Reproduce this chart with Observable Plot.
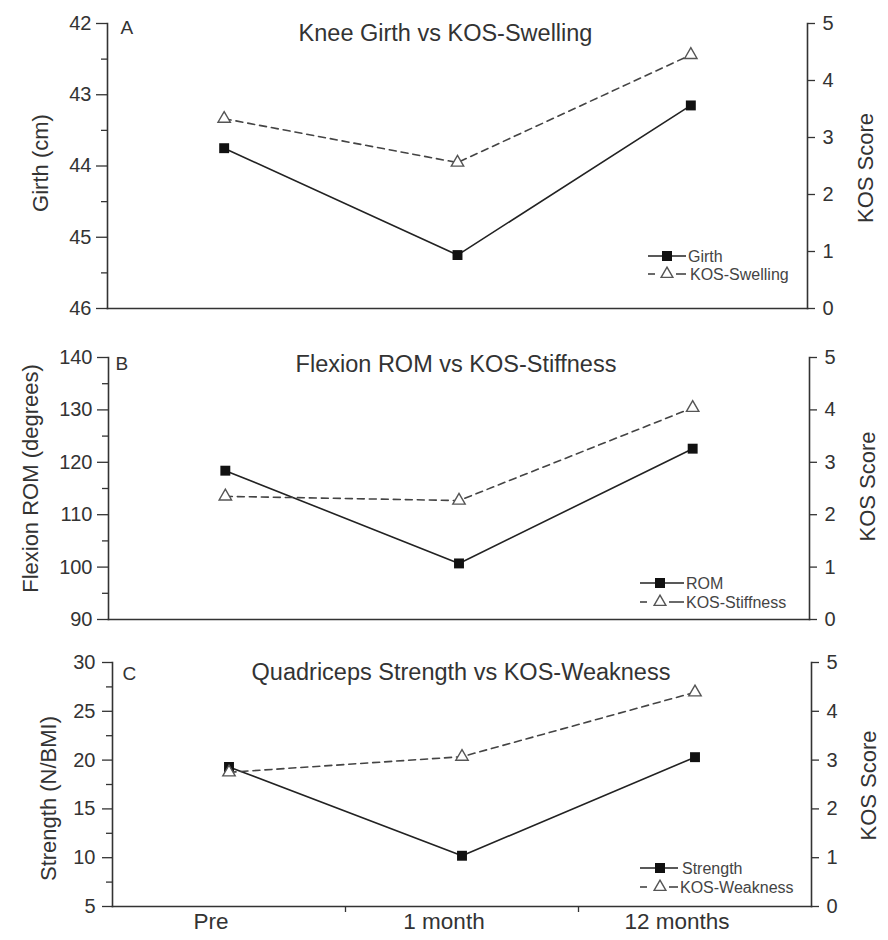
<!DOCTYPE html>
<html><head><meta charset="utf-8">
<script src="https://cdn.jsdelivr.net/npm/d3@7"></script>
<script src="https://cdn.jsdelivr.net/npm/@observablehq/plot@0.6"></script>
<style>
body{margin:0;background:#fff;font-family:"Liberation Sans",Arial,sans-serif;}
#chart{position:relative;width:888px;height:940px;overflow:hidden;}
.panel{position:absolute;left:0;width:888px;}
.panel svg{position:absolute;left:0;top:0;}
#legend{position:absolute;left:0;top:0;pointer-events:none;}
</style></head><body><div id="chart"></div>
<script>
// ---- data ----
const timepoints = ["Pre", "1 month", "12 months"];
const girth = [43.75, 45.25, 43.15];
const kosSwelling = [3.33, 2.56, 4.45];
const rom = [118.4, 100.7, 122.6];
const kosStiffness = [2.35, 2.27, 4.04];
const strength = [19.3, 10.2, 20.3];
const kosWeakness = [2.75, 3.07, 4.39];
const girthTicks = [42, 43, 44, 45, 46];
const girthMinor = [42.5, 43.5, 44.5, 45.5];
const romTicks = [90, 100, 110, 120, 130, 140];
const romMinor = [95, 105, 115, 125, 135];
const strengthTicks = [5, 10, 15, 20, 25, 30];
const strengthMinor = [7.5, 12.5, 17.5, 22.5, 27.5];
const kosTicks = [0, 1, 2, 3, 4, 5];
const panelTitles = ["Knee Girth vs KOS-Swelling", "Flexion ROM vs KOS-Stiffness", "Quadriceps Strength vs KOS-Weakness"];
const panelLetters = ["A", "B", "C"];
const leftLabels = ["Girth (cm)", "Flexion ROM (degrees)", "Strength (N/BMI)"];
const rightLabel = "KOS Score";
const seriesNames = [["Girth", "KOS-Swelling"], ["ROM", "KOS-Stiffness"], ["Strength", "KOS-Weakness"]];

const FONT = "Liberation Sans, Arial, sans-serif";
const INK = "#333";
const fmt = d3.format("d");

const panels = [
  {values: girth, kos: kosSwelling, yDomain: [46, 42], major: girthTicks, minor: girthMinor,
   top: 0, height: 330, mt: 23, mb: 22, ml: 107, mr: 81, showX: false,
   titleDx: -12, titleDy: 1, letterDx: 13, letterDy: -3, lblDx: -67, lblDy: -3, rlblDx: 58, rlblDy: 2,
   tickSize: 11, tickPad: 5,
   legend: {y1: 256, y2: 274, x1: 648, x2: 686, mx: 667, tx1: 688, tx2: 690}},
  {values: rom, kos: kosStiffness, yDomain: [90, 140], major: romTicks, minor: romMinor,
   top: 330, height: 310, mt: 27, mb: 21, ml: 108, mr: 79, showX: false,
   titleDx: -3, titleDy: -2, letterDx: 7, letterDy: -1, lblDx: -78, lblDy: -10, rlblDx: 58, rlblDy: -2,
   tickSize: 11, tickPad: 5,
   legend: {y1: 583, y2: 602, x1: 640, x2: 684, mx: 660, tx1: 686, tx2: 686}},
  {values: strength, kos: kosWeakness, yDomain: [5, 30], major: strengthTicks, minor: strengthMinor,
   top: 640, height: 300, mt: 22, mb: 34, ml: 112, mr: 77, showX: true,
   titleDx: -1, titleDy: 1, letterDx: 10, letterDy: 4, lblDx: -64, lblDy: 14, rlblDx: 57, rlblDy: 1,
   tickSize: 10, tickPad: 7,
   legend: {y1: 868, y2: 887, x1: 640, x2: 678, mx: 660, tx1: 682, tx2: 680}}
];

const chart = document.getElementById("chart");

panels.forEach((cfg, k) => {
  const div = document.createElement("div");
  div.className = "panel";
  div.style.top = cfg.top + "px";
  div.style.height = cfg.height + "px";
  chart.appendChild(div);

  const leftData = cfg.values.map((v, i) => ({i, v}));
  const kosData = cfg.kos.map((v, i) => ({i, v}));
  const style = {fontFamily: FONT, background: "transparent", overflow: "visible", color: INK};
  const common = {
    width: 888, height: cfg.height,
    marginTop: cfg.mt, marginBottom: cfg.mb, marginLeft: cfg.ml, marginRight: cfg.mr,
    style
  };
  const xScale = {type: "linear", domain: [-0.5, 2.5]};
  if (!cfg.showX) xScale.axis = null;

  const marks1 = [
    Plot.frame({anchor: "left", stroke: INK, strokeWidth: 1.6}),
    Plot.frame({anchor: "bottom", stroke: INK, strokeWidth: 1.6}),
    Plot.axisY({ticks: cfg.minor, tickSize: 6, tickFormat: () => "", label: null, stroke: INK, strokeWidth: 1.3}),
    Plot.axisY({ticks: cfg.major, tickSize: cfg.tickSize, tickPadding: cfg.tickPad, tickFormat: fmt, label: null,
      fontSize: 20, stroke: INK, strokeWidth: 1.3, fill: INK}),
    Plot.line(leftData, {x: "i", y: "v", stroke: "#222", strokeWidth: 1.6}),
    Plot.dot(leftData, {x: "i", y: "v", symbol: "square", r: 5.6, fill: "#111", stroke: null}),
    Plot.text([panelTitles[k]], {text: d => d, frameAnchor: "top", dx: cfg.titleDx, dy: cfg.titleDy,
      fontSize: 23.5, fill: INK}),
    Plot.text([panelLetters[k]], {text: d => d, frameAnchor: "top-left", textAnchor: "start",
      dx: cfg.letterDx, dy: cfg.letterDy, fontSize: 19, fill: INK}),
    Plot.text([leftLabels[k]], {text: d => d, frameAnchor: "left", textAnchor: "middle", rotate: -90,
      dx: cfg.lblDx, dy: cfg.lblDy, fontSize: 22, fill: INK})
  ];
  if (cfg.showX) {
    marks1.push(Plot.axisX({ticks: [0.5, 1.5], tickSize: 6, tickFormat: () => "", label: null, stroke: INK, strokeWidth: 1.3}));
    marks1.push(Plot.axisX({ticks: [0, 1, 2], tickSize: 0, tickPadding: 7, tickFormat: i => timepoints[i],
      label: null, fontSize: 22.5, fill: INK, dx: -18}));
  }

  const p1 = Plot.plot({...common, x: xScale, y: {domain: cfg.yDomain}, marks: marks1});
  div.appendChild(p1);

  const p2 = Plot.plot({
    ...common,
    x: {type: "linear", domain: [-0.5, 2.5], axis: null},
    y: {domain: [0, 5]},
    marks: [
      Plot.frame({anchor: "right", stroke: INK, strokeWidth: 1.6}),
      Plot.axisY({anchor: "right", ticks: kosTicks, tickSize: 7, tickPadding: 8, tickFormat: fmt, label: null,
        fontSize: 20, stroke: INK, strokeWidth: 1.3, fill: INK}),
      Plot.line(kosData, {x: "i", y: "v", stroke: "#444", strokeWidth: 1.6, strokeDasharray: "7,5"}),
      Plot.dot(kosData, {x: "i", y: "v", symbol: "triangle", r: 4.6, fill: "white", stroke: "#555", strokeWidth: 1.4}),
      Plot.text([rightLabel], {text: d => d, frameAnchor: "right", textAnchor: "middle", rotate: -90,
        dx: cfg.rlblDx, dy: cfg.rlblDy, fontSize: 22, fill: INK})
    ]
  });
  div.appendChild(p2);
});

// ---- legends ----
const lg = d3.select(chart).append("svg").attr("id", "legend").attr("width", 888).attr("height", 940);
panels.forEach((cfg, k) => {
  const L = cfg.legend;
  const g = lg.append("g").attr("font-family", FONT).attr("font-size", 16).attr("fill", "#444");
  g.append("line").attr("x1", L.x1).attr("x2", L.x2).attr("y1", L.y1).attr("y2", L.y1)
    .attr("stroke", "#222").attr("stroke-width", 1.6);
  g.append("rect").attr("x", L.mx - 5).attr("y", L.y1 - 5).attr("width", 10).attr("height", 10).attr("fill", "#111");
  g.append("text").attr("x", L.tx1).attr("y", L.y1).attr("dy", "0.35em").text(seriesNames[k][0]);
  // dashed row: short dash, triangle, short dash
  g.append("line").attr("x1", L.x1).attr("x2", L.x1 + 7).attr("y1", L.y2).attr("y2", L.y2)
    .attr("stroke", "#444").attr("stroke-width", 1.6);
  g.append("line").attr("x1", L.mx + 9).attr("x2", L.x2).attr("y1", L.y2).attr("y2", L.y2)
    .attr("stroke", "#444").attr("stroke-width", 1.6);
  g.append("path").attr("d", d3.symbol(d3.symbolTriangle, 60)())
    .attr("transform", `translate(${L.mx},${L.y2})`).attr("fill", "white").attr("stroke", "#555").attr("stroke-width", 1.4);
  g.append("text").attr("x", L.tx2).attr("y", L.y2).attr("dy", "0.35em").text(seriesNames[k][1]);
});
</script></body></html>
